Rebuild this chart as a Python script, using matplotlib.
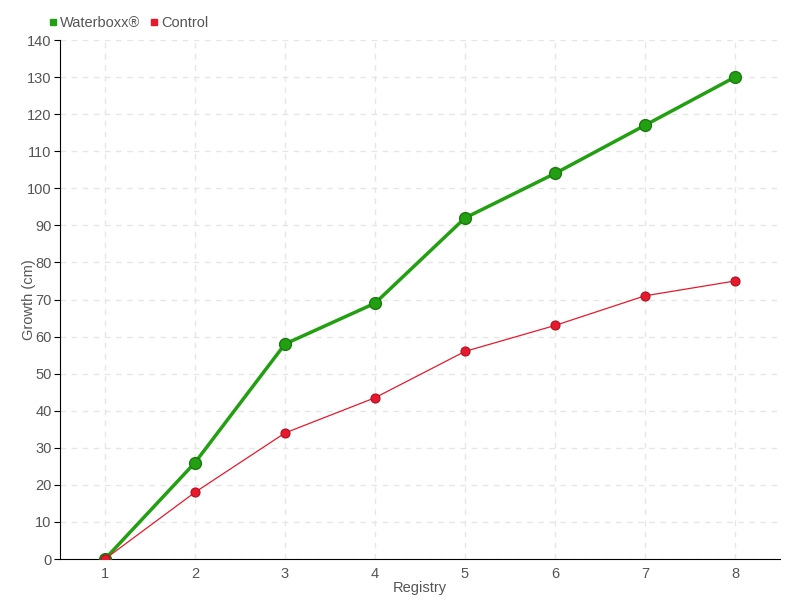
import numpy as np
import matplotlib.pyplot as plt

plt.rcParams['font.family'] = ['Liberation Sans Narrow', 'Liberation Sans', 'DejaVu Sans']

# 数据
registry = [1, 2, 3, 4, 5, 6, 7, 8]
waterboxx = [0, 26, 58, 69, 92, 104, 117, 130]
control = [0, 18, 34, 43.5, 56, 63, 71, 75]

green = '#22a012'
red = '#e8192c'
txt = '#555555'

fig = plt.figure(figsize=(8, 6), dpi=100)
ax = fig.add_axes([0.075, 0.0683, 0.9, 0.865])

ax.plot(registry, waterboxx, color=green, lw=2.5, marker='o', ms=8.5,
        mfc=green, mec='#1a7a10', mew=1, label='Waterboxx®', zorder=3)
ax.plot(registry, control, color=red, lw=0.9, marker='o', ms=6.5,
        mfc=red, mec='#b01020', mew=0.8, label='Control', zorder=4)

ax.set_xlim(0.5, 8.5)
ax.set_ylim(0, 140)
ax.set_xticks(registry)
ax.set_yticks(np.arange(0, 141, 10))
ax.grid(True, color='#e6e6e6', linestyle=(0, (4, 4)), lw=1)
ax.set_axisbelow(True)
for s in ['top', 'right']:
    ax.spines[s].set_visible(False)
ax.tick_params(colors='black', labelcolor=txt, labelsize=10.5, direction='out')
ax.tick_params(axis='y', length=4, pad=2)
ax.tick_params(axis='x', length=0, pad=6)
ax.set_xlabel('Registry', color=txt, fontsize=10.5, labelpad=0)
ax.set_ylabel('Growth (cm)', color=txt, fontsize=10.5)
ax.yaxis.set_label_coords(-0.034, 0.5)

ax.legend(loc='lower left', bbox_to_anchor=(-0.03, 1.0), ncol=2, frameon=False,
          handlelength=0.6, handletextpad=0.2, columnspacing=0.6, fontsize=10.5,
          labelcolor=txt, borderaxespad=0.3,
          handles=[plt.Line2D([], [], ls='', marker='s', ms=5, color=green),
                   plt.Line2D([], [], ls='', marker='s', ms=5, color=red)],
          labels=['Waterboxx®', 'Control'])

fig.savefig('out.png', dpi=100)
